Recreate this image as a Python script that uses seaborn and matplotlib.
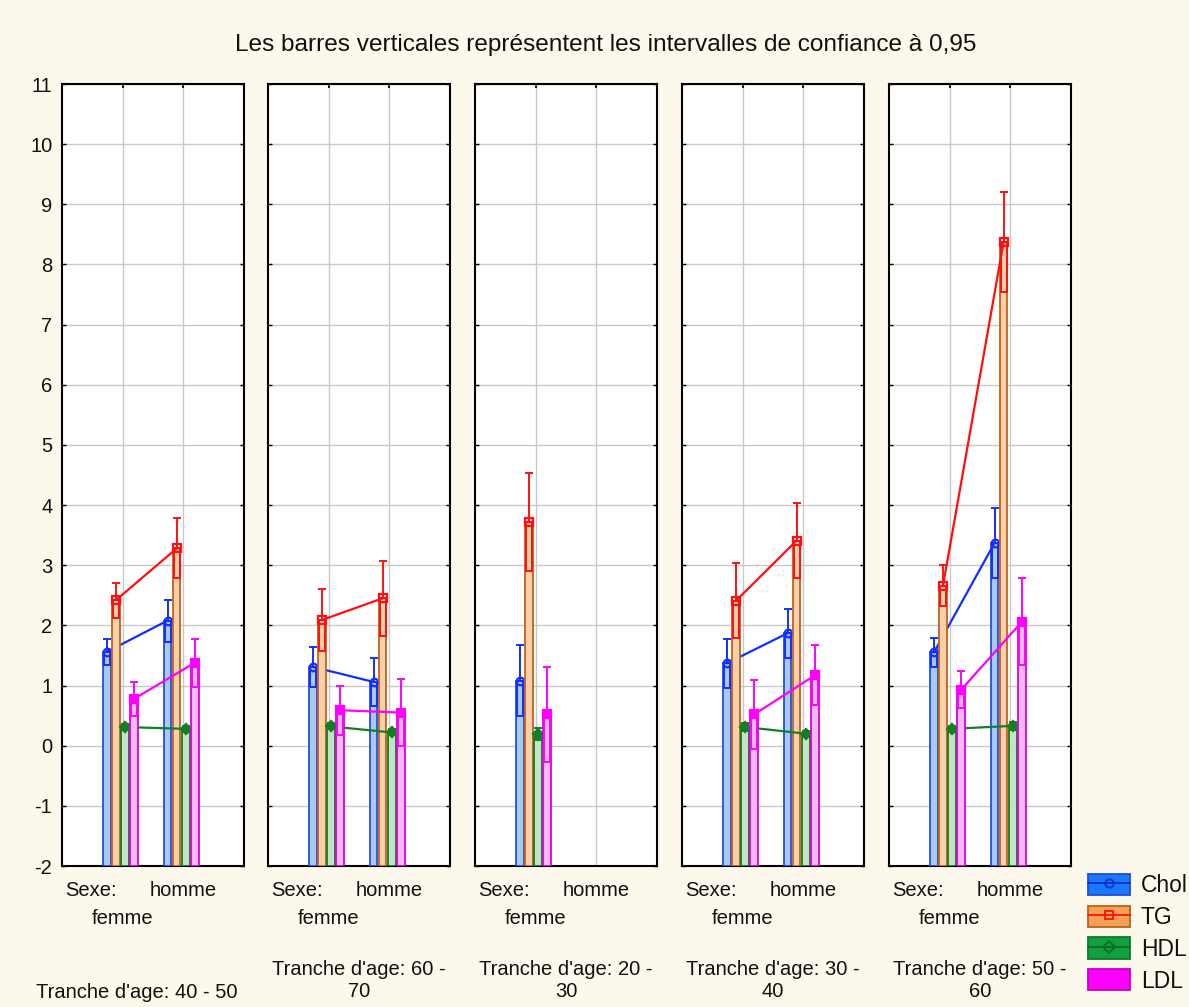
import numpy as np
import matplotlib
matplotlib.use("Agg")
import matplotlib.pyplot as plt
import matplotlib.transforms as mtransforms
from matplotlib.patches import Patch, Rectangle
from matplotlib.lines import Line2D
from matplotlib.legend_handler import HandlerTuple
from matplotlib import font_manager
import seaborn as sns

# ---- data -------------------------------------------------------------
title = "Les barres verticales représentent les intervalles de confiance à 0,95"
age_labels = ["Tranche d'age: 40 - 50", "Tranche d'age: 60 -\n70",
              "Tranche d'age: 20 -\n30", "Tranche d'age: 30 -\n40",
              "Tranche d'age: 50 -\n60"]
sexes = ["femme", "homme"]
variables = ["Chol", "TG", "HDL", "LDL"]
nan = np.nan

# means (femme, homme) per age band, in panel order
chol_mean = [[1.56, 2.08], [1.31, 1.06], [1.08, nan], [1.37, 1.87], [1.55, 3.37]]
tg_mean = [[2.42, 3.28], [2.09, 2.45], [3.72, nan], [2.41, 3.41], [2.66, 8.38]]
hdl_mean = [[0.31, 0.28], [0.32, 0.22], [0.20, nan], [0.31, 0.20], [0.28, 0.33]]
ldl_mean = [[0.78, 1.38], [0.59, 0.55], [0.52, nan], [0.52, 1.17], [0.93, 2.06]]

# half-width of the 95 % confidence intervals
chol_ci = [[0.22, 0.35], [0.33, 0.40], [0.59, nan], [0.41, 0.41], [0.24, 0.58]]
tg_ci = [[0.29, 0.50], [0.51, 0.62], [0.81, nan], [0.62, 0.62], [0.34, 0.83]]
hdl_ci = [[0.05, 0.05], [0.05, 0.05], [0.10, nan], [0.06, 0.05], [0.05, 0.07]]
ldl_ci = [[0.28, 0.40], [0.41, 0.56], [0.79, nan], [0.57, 0.50], [0.31, 0.72]]

y_ticks = list(range(-2, 12))

# ---- styling ----------------------------------------------------------
sns.set_theme(style="white")
plt.rcParams["font.family"] = ["Liberation Sans", "DejaVu Sans"]
plt.rcParams["axes.unicode_minus"] = False

BG = "#fdf8ec"
TXT = "#111111"
means = [chol_mean, tg_mean, hdl_mean, ldl_mean]
cis = [chol_ci, tg_ci, hdl_ci, ldl_ci]
offsets = [-0.26, -0.11, 0.04, 0.19]
bar_w = 0.125
bar_fill = ["#a9c9f2", "#f7cfa9", "#c2e4c6", "#f5b9f1"]
bar_edge = ["#2250d8", "#c0621c", "#127a22", "#d900d9"]
line_col = ["#1030ff", "#ff1010", "#118025", "#ff00ff"]
markers = ["o", "s", "D", "s"]
marker_face = ["none", "none", "#118025", "#ff00ff"]
legend_fill = ["#1a78ff", "#f4a055", "#10a040", "#ff00ff"]
legend_edge = ["#1f4fd0", "#b8621c", "#0d7a2a", "#c000c0"]
legend_line = ["#1030c0", "#ff1010", "#0d6a22"]

W, H = 1189, 1007
fig = plt.figure(figsize=(W / 100, H / 100), dpi=100, facecolor=BG)


def px_axes(x0, y0, x1, y1):
    return fig.add_axes([x0 / W, 1 - y1 / H, (x1 - x0) / W, (y1 - y0) / H])


def fy(ypx):
    return 1 - ypx / H


narrow = any("Narrow" in f.name for f in font_manager.fontManager.ttflist
             if f.name.startswith("Liberation Sans"))
if narrow:
    fig.text(606 / W, fy(45), title, ha="center", va="center", color=TXT,
             fontsize=21, family=["Liberation Sans Narrow", "DejaVu Sans"])
else:
    fig.text(606 / W, fy(45), title, ha="center", va="center", color=TXT,
             fontsize=17.6)

panel_left = [62, 268, 475, 682, 889]
panel_w = 182
FS = 14.5

for p in range(5):
    ax = px_axes(panel_left[p], 84, panel_left[p] + panel_w, 866)
    ax.set_facecolor("white")
    ax.set_xlim(-1, 2)
    ax.set_ylim(-2, 11)
    ax.set_xticks([0, 1])
    ax.set_xticklabels([])
    ax.set_yticks(y_ticks)
    ax.set_axisbelow(True)
    ax.grid(True, color="#c9c9c9", lw=1.0)
    for s in ax.spines.values():
        s.set_color("black")
        s.set_linewidth(1.5)
    ax.tick_params(axis="y", which="both", direction="in", length=3, width=1,
                   left=True, right=True, color="black", pad=7, labelsize=FS,
                   labelcolor=TXT)
    ax.tick_params(axis="x", direction="in", length=3, top=True, bottom=False,
                   color="black")
    if p == 0:
        ax.set_yticklabels([str(t) for t in y_ticks])
    else:
        ax.set_yticklabels([])

    xs = np.array([0.0, 1.0])
    for v in range(4):
        m = np.array(means[v][p], dtype=float)
        c = np.array(cis[v][p], dtype=float)
        ok = ~np.isnan(m)
        x = xs[ok] + offsets[v]
        mm, cc = m[ok], c[ok]
        zb = 10 + 3 * v
        ax.bar(x, mm + 2, bottom=-2, width=bar_w, color=bar_fill[v],
               edgecolor=bar_edge[v], linewidth=1.3, zorder=zb)
        if len(x) > 1:
            sns.lineplot(x=x, y=mm, ax=ax, color=line_col[v], lw=1.6,
                         zorder=zb + 1, estimator=None, sort=False)
        ax.errorbar(x, mm, yerr=[np.zeros_like(cc), cc], fmt="none",
                    ecolor=line_col[v], elinewidth=1.4, capsize=3,
                    capthick=1.4, zorder=zb + 1)
        for xi, mi, ci in zip(x, mm, cc):
            ax.add_patch(Rectangle((xi - bar_w * 0.4, mi - ci), bar_w * 0.8, ci,
                                   fill=False, edgecolor=line_col[v], lw=1.4,
                                   zorder=zb + 1))
        ax.plot(x, mm, ls="none", marker=markers[v], ms=5.5,
                mfc=marker_face[v], mec=line_col[v], mew=1.6, zorder=zb + 2)

    # category labels under the panel
    tr = mtransforms.blended_transform_factory(ax.transData, fig.transFigure)
    fig.text((panel_left[p] + 3) / W, fy(890), "Sexe:", ha="left",
             va="center", fontsize=FS, color=TXT)
    ax.text(1, fy(890), sexes[1], transform=tr, ha="center", va="center",
            fontsize=FS, color=TXT)
    ax.text(0, fy(918), sexes[0], transform=tr, ha="center", va="center",
            fontsize=FS, color=TXT)
    if "\n" in age_labels[p]:
        fig.text((panel_left[p] + panel_w / 2) / W, fy(980.5), age_labels[p],
                 ha="center", va="center", fontsize=FS, color=TXT,
                 linespacing=1.2)
    else:
        fig.text(137 / W, fy(993), age_labels[p], ha="center", va="center",
                 fontsize=FS, color=TXT)

# legend: coloured swatch with the series line and marker drawn across it
handles = []
for v in range(4):
    patch = Patch(facecolor=legend_fill[v], edgecolor=legend_edge[v], lw=1.3)
    if v < 3:
        ln = Line2D([], [], color=legend_line[v], lw=1.3, marker=markers[v],
                    ms=6, mfc="none", mec=legend_line[v], mew=1.3)
        handles.append((patch, ln))
    else:
        handles.append(patch)
fig.legend(handles, variables, loc="upper left",
           bbox_to_anchor=(1088 / W, fy(874)), frameon=False, fontsize=16.5,
           labelcolor=TXT,
           handlelength=1.85, handleheight=1.05, labelspacing=0.36,
           handletextpad=0.45, borderpad=0, borderaxespad=0,
           handler_map={tuple: HandlerTuple(ndivide=1, pad=0)})

fig.savefig("out.png", dpi=100, facecolor=BG)
